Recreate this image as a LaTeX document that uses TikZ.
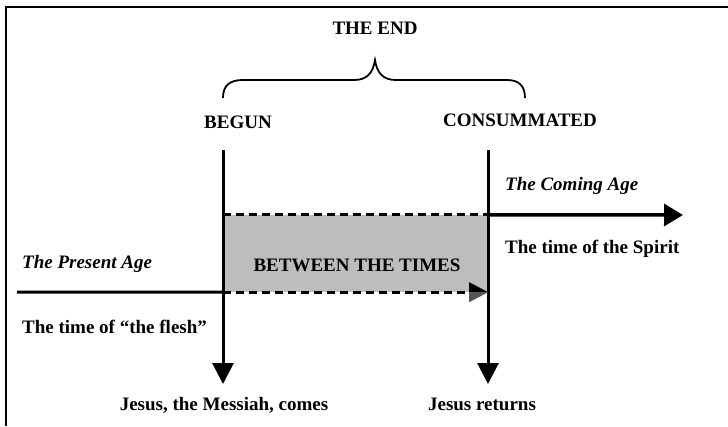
\documentclass[tikz,border=0pt]{standalone}
\usepackage{fontspec}
\setmainfont{Liberation Serif}
\usetikzlibrary{arrows.meta}
\definecolor{boxgray}{HTML}{BDBDBD}
\definecolor{tipgray}{HTML}{555555}
\begin{document}
\begin{tikzpicture}[x=1pt,y=-1pt,
  lbl/.style={font=\fontsize{19}{21}\selectfont\bfseries, inner sep=0pt},
  ilbl/.style={font=\fontsize{19}{21}\selectfont\bfseries\itshape, inner sep=0pt},
  bigtip/.style={-{Triangle[length=21pt,width=21pt]}},
  frameline/.style={line width=2pt}]
\useasboundingbox (0,0) rectangle (728,426);
% frame (only top and left visible)
\coordinate (fa) at (6,426);
\coordinate (fb) at (6,7);
\coordinate (fc) at (728,7);
\draw[frameline] (fa) -- (fb) -- (fc);
% titles
\node[lbl] (end) at (375,28) {THE END};
\node[lbl] (begun) at (238,122) {BEGUN};
\node[lbl] (cons) at (520,120) {CONSUMMATED};
% brace
\coordinate (bl) at (223,98);
\coordinate (br) at (525,98);
\coordinate (bt) at (375,60);
\draw[line width=1.8pt] (bl) .. controls (223,86) and (229,80) .. (243,80) -- (354,80)
  .. controls (367,80) and (373,73) .. (bt)
  .. controls (377,73) and (383,80) .. (396,80) -- (507,80)
  .. controls (519,80) and (525,86) .. (br);
% between the times box
\node[fill=boxgray, minimum width=265pt, minimum height=77pt, inner sep=0pt] (box) at (355.5,253.5) {};
\node[lbl] (btw) at (357,265) {BETWEEN THE TIMES};
% vertical arrows
\coordinate (va) at (223,150);
\coordinate (vb) at (488,150);
\node[lbl] (comes) at (224,405) {Jesus, the Messiah, comes};
\node[lbl] (returns) at (482,404) {Jesus returns};
\coordinate (ea) at (223,384);
\coordinate (eb) at (488,384);
\draw[line width=3pt, bigtip] (va) -- (ea);
\draw[line width=3pt, bigtip] (vb) -- (eb);
% dashed edges
\draw[line width=3pt, dash pattern=on 8pt off 5pt] (box.north west) -- (box.north east);
\draw[line width=3pt, dash pattern=on 8pt off 5pt] (box.south west) -- ([xshift=-19pt]box.south east);
\fill[black] ([xshift=-19pt,yshift=10pt]box.south east) -- (box.south east) -- ([xshift=-19pt]box.south east) -- cycle;
\fill[tipgray] ([xshift=-19pt,yshift=-10pt]box.south east) -- (box.south east) -- ([xshift=-19pt]box.south east) -- cycle;
% present age line
\coordinate (pl) at (17,292);
\draw[line width=3pt] (pl) -- (box.south west);
% coming age arrow
\coordinate (cr) at (683,215);
\draw[line width=3.5pt, -{Triangle[length=19pt,width=22pt]}] (box.north east) -- (cr);
% labels
\node[ilbl, anchor=west] (present) at (22,264) {The Present Age};
\node[lbl, anchor=west] (flesh) at (22,327) {The time of “the flesh”};
\node[ilbl, anchor=west] (coming) at (505,186) {The Coming Age};
\node[lbl, anchor=west] (spirit) at (505,249) {The time of the Spirit};
\end{tikzpicture}
\end{document}
